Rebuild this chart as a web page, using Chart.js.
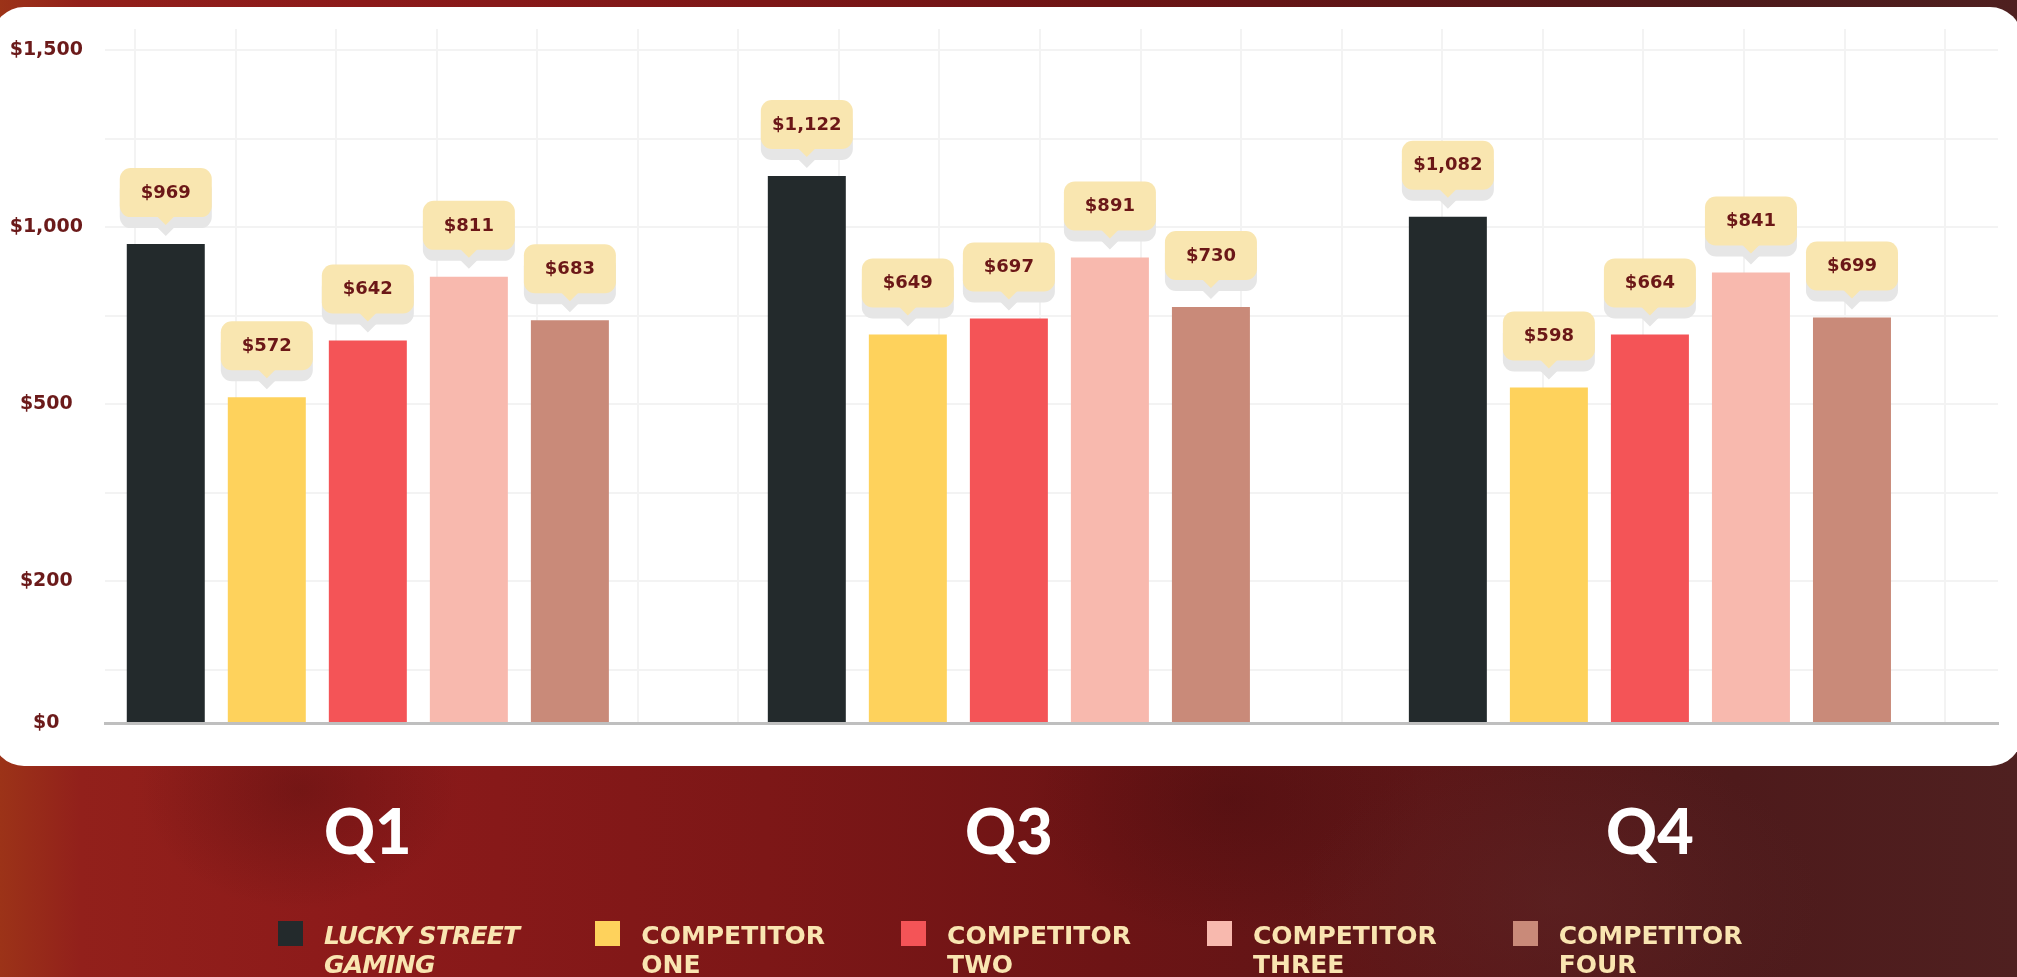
<!DOCTYPE html>
<html>
<head>
<meta charset="utf-8">
<title>Quarterly revenue per user</title>
<script src="https://cdn.jsdelivr.net/npm/chart.js@4.4.1/dist/chart.umd.min.js"></script>
<style>
  html, body { margin: 0; padding: 0; width: 2017px; height: 977px; overflow: hidden; }
  body {
    position: relative;
    font-family: "DejaVu Sans", sans-serif;
    background:
      radial-gradient(ellipse 260px 160px at 1560px 900px, rgba(95, 40, 40, 0.45), rgba(95, 40, 40, 0)),
      radial-gradient(ellipse 200px 140px at 1230px 800px, rgba(60, 10, 12, 0.35), rgba(60, 10, 12, 0)),
      radial-gradient(ellipse 160px 120px at 300px 790px, rgba(70, 12, 12, 0.35), rgba(70, 12, 12, 0)),
      linear-gradient(90deg, #9c3318 0%, #92201b 4%, #8c1a1a 18%, #7d1717 38%, #6d1415 55%, #5d1617 70%, #4e1a1b 86%, #4f2020 100%);
  }
  .panel {
    position: absolute; left: -8px; top: 7px;
    width: 2030px; height: 759px;
    background: #fff; border-radius: 32px;
  }
  #chart { position: absolute; left: 0; top: 0; }
  #legend {
    position: absolute; left: 278px; top: 921px;
    display: flex; gap: 76px;
  }
  .item { display: flex; align-items: flex-start; }
  .swatch { width: 25px; height: 25px; margin-right: 21px; flex: none; }
  .name {
    color: #f9e5b1; font: bold 25px/29px "DejaVu Sans", sans-serif;
    white-space: nowrap;
  }
  .brand .name { font-style: italic; letter-spacing: -0.8px; }
</style>
</head>
<body>
<div class="panel"></div>
<canvas id="chart" width="2017" height="977"></canvas>
<div id="legend"></div>

<script>
const categories = ['Q1', 'Q3', 'Q4'];
const seriesNames = ['Lucky Street Gaming', 'Competitor One', 'Competitor Two', 'Competitor Three', 'Competitor Four'];
const seriesColors = ['#232a2c', '#fed25c', '#f45457', '#f8b9ae', '#c98a79'];

// bar heights as drawn, in the axis units below
const luckyStreet = [541, 618, 572];
const competitorOne = [368, 439, 379];
const competitorTwo = [432, 457, 439];
const competitorThree = [504, 526, 509];
const competitorFour = [455, 470, 458];

// dollar figures printed in the callouts
const luckyStreetRevenue = [969, 1122, 1082];
const competitorOneRevenue = [572, 649, 598];
const competitorTwoRevenue = [642, 697, 664];
const competitorThreeRevenue = [811, 891, 841];
const competitorFourRevenue = [683, 730, 699];

// y axis: grid rows and the labels the design puts on them
const yTickValues = [0, 60, 160, 260, 360, 460, 560, 660, 760];
const yTickLabels = ['$0', '', '$200', '', '$500', '', '$1,000', '', '$1,500'];

const barSeries = [luckyStreet, competitorOne, competitorTwo, competitorThree, competitorFour];
const revenueSeries = [luckyStreetRevenue, competitorOneRevenue, competitorTwoRevenue, competitorThreeRevenue, competitorFourRevenue];

const money = v => '$' + v.toLocaleString('en-US');

function bubble(ctx, cx, bottom, w, h, r) {
  ctx.beginPath();
  ctx.roundRect(cx - w / 2, bottom - h, w, h, r);
  ctx.fill();
  ctx.beginPath();
  ctx.moveTo(cx - 9, bottom - 1);
  ctx.lineTo(cx, bottom + 8);
  ctx.lineTo(cx + 9, bottom - 1);
  ctx.closePath();
  ctx.fill();
}

const callouts = {
  id: 'callouts',
  afterDatasetsDraw(chart) {
    const ctx = chart.ctx;
    ctx.save();
    chart.data.datasets.forEach((ds, i) => {
      chart.getDatasetMeta(i).data.forEach((bar, j) => {
        const bottom = bar.y - 27;
        ctx.fillStyle = '#e6e6e6';
        bubble(ctx, bar.x, bottom + 11, 92, 49, 11);
        ctx.fillStyle = '#f9e6b0';
        bubble(ctx, bar.x, bottom, 92, 49, 11);
        ctx.fillStyle = '#6b1717';
        ctx.font = 'bold 18px "DejaVu Sans"';
        ctx.textAlign = 'center';
        ctx.textBaseline = 'middle';
        ctx.fillText(money(ds.revenue[j]), bar.x, bottom - 24);
      });
    });
    ctx.restore();
  }
};

new Chart(document.getElementById('chart'), {
  type: 'bar',
  data: {
    datasets: seriesNames.map((name, i) => ({
      label: name,
      data: barSeries[i].map((v, j) => ({ x: j, y: v })),
      revenue: revenueSeries[i],
      backgroundColor: seriesColors[i],
      categoryPercentage: 0.788,
      barPercentage: 0.772
    }))
  },
  options: {
    responsive: false,
    animation: false,
    devicePixelRatio: 1,
    layout: { padding: { top: 29, right: 19, bottom: 0, left: 0 } },
    plugins: { legend: { display: false }, tooltip: { enabled: false } },
    scales: {
      x: {
        type: 'linear',
        position: 'bottom',
        offset: false,
        min: -0.41,
        max: 2.543,
        afterBuildTicks: s => { s.ticks = categories.map((c, i) => ({ value: i })); },
        afterFit: s => { s.height = 254; },
        grid: { display: false, drawTicks: false, offset: false },
        border: { color: '#bfbfbf', width: 3 },
        ticks: {
          color: '#ffffff',
          padding: 73,
          font: { family: 'Lato', weight: 900, size: 63 },
          callback: v => categories[v]
        }
      },
      xGrid: {
        type: 'linear',
        position: 'top',
        offset: false,
        min: -0.298,
        max: 18.526,
        afterBuildTicks: s => { s.ticks = Array.from({ length: 19 }, (_, i) => ({ value: i })); },
        afterFit: s => { s.height = 0; },
        ticks: { display: false },
        grid: { color: '#f3f3f3', lineWidth: 2, drawTicks: false, offset: false },
        border: { display: false }
      },
      y: {
        min: 0,
        max: 784,
        afterBuildTicks: s => { s.ticks = yTickValues.map(v => ({ value: v })); },
        afterFit: s => {
          s.width = 105;
          s.paddingTop = 0;
          s.paddingBottom = 0;
        },
        grid: {
          color: c => (c.tick && c.tick.value === 0) ? 'rgba(0,0,0,0)' : '#f3f3f3',
          lineWidth: 2,
          drawTicks: false
        },
        border: { display: false },
        ticks: {
          padding: 22,
          crossAlign: 'center',
          color: '#6b1a1a',
          font: { family: 'DejaVu Sans', weight: 'bold', size: 19 },
          callback: (v, i) => yTickLabels[i]
        }
      }
    }
  },
  plugins: [callouts]
});

// legend under the chart, two lines per entry
const legend = document.getElementById('legend');
seriesNames.forEach((name, i) => {
  const words = name.toUpperCase().split(' ');
  const last = words.pop();
  const item = document.createElement('div');
  item.className = i === 0 ? 'item brand' : 'item';
  item.innerHTML = '<span class="swatch" style="background:' + seriesColors[i] + '"></span>' +
    '<span class="name">' + words.join(' ') + '<br>' + last + '</span>';
  legend.appendChild(item);
});
</script>
</body>
</html>
